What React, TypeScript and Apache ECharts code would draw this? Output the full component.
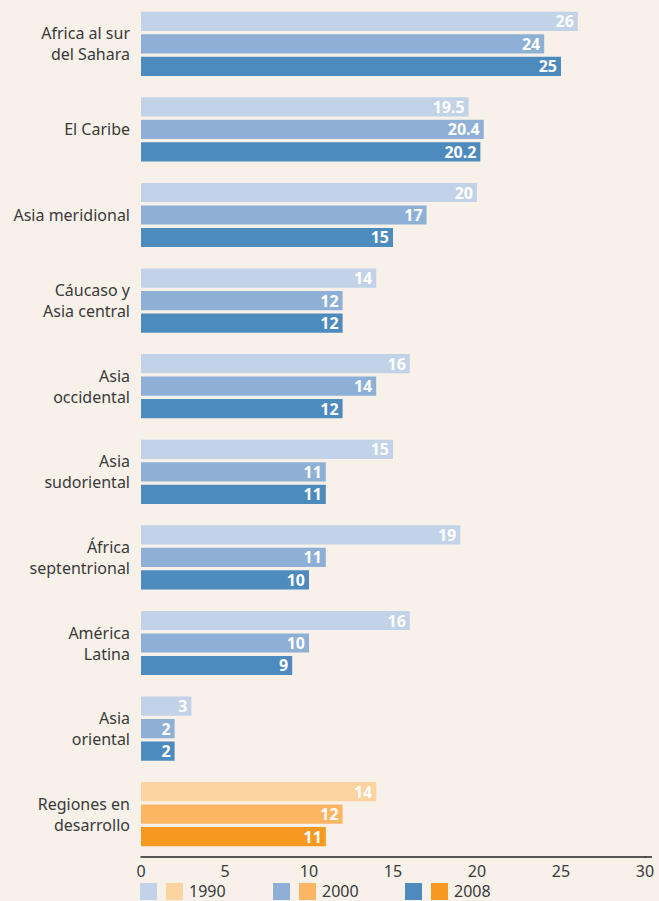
import React, { useEffect, useRef } from "react";
import * as echarts from "echarts";

const categories = [
  "Africa al sur\ndel Sahara",
  "El Caribe",
  "Asia meridional",
  "Cáucaso y\nAsia central",
  "Asia\noccidental",
  "Asia\nsudoriental",
  "África\nseptentrional",
  "América\nLatina",
  "Asia\noriental",
  "Regiones en\ndesarrollo",
];
const values1990 = [26, 19.5, 20, 14, 16, 15, 19, 16, 3, 14];
const values2000 = [24, 20.4, 17, 12, 14, 11, 11, 10, 2, 12];
const values2008 = [25, 20.2, 15, 12, 12, 11, 10, 9, 2, 11];
const years = ["1990", "2000", "2008"];
const tickLabels = [0, 5, 10, 15, 20, 25, 30];

const blues = ["#c2d3e8", "#8eb0d6", "#4d8abe"];
const oranges = ["#fdd39f", "#fbb563", "#f7981f"];
const BG = "#f7f1ea";
const FONT = "'Noto Sans', 'Open Sans', sans-serif";

export default function App() {
  const ref = useRef<HTMLDivElement>(null);
  useEffect(() => {
    if (!ref.current) return;
    const chart = echarts.init(ref.current, null, { renderer: "svg" });
    const allSeries = [values1990, values2000, values2008];
    const lastIdx = categories.length - 1;
    const series = allSeries.map((vals, si) => ({
      type: "bar",
      name: years[si],
      barGap: "17%",
      barCategoryGap: "25%",
      data: vals.map((v, i) => ({
        value: v,
        itemStyle: { color: i === lastIdx ? oranges[si] : blues[si] },
      })),
      label: {
        show: true,
        position: "insideRight",
        distance: 4,
        color: "#ffffff",
        fontFamily: FONT,
        fontWeight: "bold",
        fontSize: 16,
        formatter: (p: any) => String(p.value),
      },
    }));

    const legendGraphics: any[] = [
      {
        type: "line",
        shape: { x1: 645, y1: 857, x2: 652, y2: 857 },
        style: { stroke: "#222", lineWidth: 1.5 },
      },
    ];
    const legendX = [140, 273, 405];
    years.forEach((y, i) => {
      const x = legendX[i];
      legendGraphics.push({
        type: "rect",
        shape: { x: x, y: 883, width: 17, height: 17 },
        style: { fill: blues[i] },
      });
      legendGraphics.push({
        type: "rect",
        shape: { x: x + 26, y: 883, width: 17, height: 17 },
        style: { fill: oranges[i] },
      });
      legendGraphics.push({
        type: "text",
        x: x + 49,
        y: 891,
        style: {
          text: y,
          fill: "#3a3a3a",
          font: `16px ${FONT}`,
          verticalAlign: "middle",
        },
      });
    });

    chart.setOption({
      animation: false,
      backgroundColor: BG,
      grid: { left: 141, right: 14, top: 1, bottom: 44, containLabel: false },
      xAxis: {
        type: "value",
        min: 0,
        max: 30,
        interval: 5,
        axisLine: { show: true, lineStyle: { color: "#222", width: 1.5 } },
        axisTick: { show: false },
        splitLine: { show: false },
        axisLabel: {
          color: "#3a3a3a",
          fontFamily: FONT,
          fontSize: 16,
          margin: 6,
          formatter: (v: number) => (tickLabels.includes(v) ? String(v) : ""),
        },
      },
      yAxis: {
        type: "category",
        inverse: true,
        data: categories,
        axisLine: { show: false },
        axisTick: { show: false },
        axisLabel: {
          color: "#3a3a3a",
          fontFamily: FONT,
          fontSize: 16,
          lineHeight: 21,
          margin: 11,
          align: "right",
        },
      },
      series,
      graphic: legendGraphics,
    });
    return () => chart.dispose();
  }, []);
  return (
    <div
      ref={ref}
      style={{ position: "fixed", left: 0, top: 0, width: 659, height: 901, background: BG }}
    />
  );
}
